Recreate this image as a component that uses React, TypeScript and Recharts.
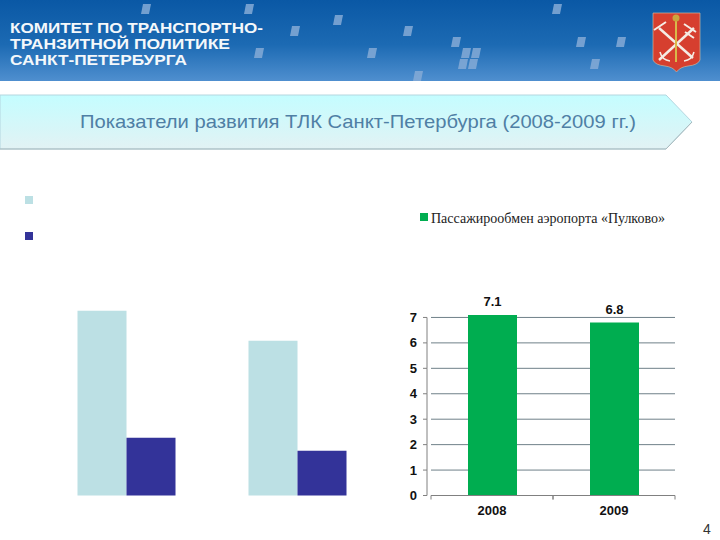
import { Bar, BarChart, CartesianGrid, LabelList, XAxis, YAxis } from "recharts"

const years = ["2008", "2009"]
// left chart has no readable scale, values read as bar heights against the right chart's units
const lightValues = [7.26, 6.08]
const darkValues = [2.27, 1.76]
const passengerValues = [7.1, 6.8]
const yTicks = [0, 1, 2, 3, 4, 5, 6, 7]
const passengerName = "Пассажирообмен аэропорта «Пулково»"
const titleText = "Показатели развития ТЛК Санкт-Петербурга (2008-2009 гг.)"
const headerLines = ["КОМИТЕТ ПО ТРАНСПОРТНО-", "ТРАНЗИТНОЙ ПОЛИТИКЕ", "САНКТ-ПЕТЕРБУРГА"]
const headerWidths = [253, 220, 177]

const leftData = years.map((year, i) => ({ year, light: lightValues[i], dark: darkValues[i] }))
const rightData = years.map((year, i) => ({ year, value: passengerValues[i] }))

const squares = [
  [141, 4], [244, 4], [333, 15], [290, 26], [403, 26], [552, 4], [576, 37], [616, 37],
  [254, 48], [367, 48], [451, 37], [461, 48], [471, 48], [458, 59], [468, 59], [590, 59], [413, 71],
]

const axisColor = "#808080"
const labelFont = { fill: "#111", fontSize: 13, fontFamily: "Liberation Sans", fontWeight: "bold" }
const UNIT_PX = 25.45
const HALF_BAND = 61

function Header() {
  return (
    <svg width={720} height={160} style={{ position: "absolute", left: 0, top: 0 }}>
      <defs>
        <linearGradient id="head" x1="0" y1="0" x2="0" y2="1">
          <stop offset="0" stopColor="#0a58a5" />
          <stop offset="0.55" stopColor="#1c6ab3" />
          <stop offset="1" stopColor="#4f8fcf" />
        </linearGradient>
        <linearGradient id="banner" x1="0" y1="0" x2="0" y2="1">
          <stop offset="0" stopColor="#c4fdff" />
          <stop offset="1" stopColor="#e2f2f4" />
        </linearGradient>
      </defs>
      <rect x={0} y={0} width={720} height={81} fill="url(#head)" />
      {squares.map(([x, y], i) => (
        <polygon key={i} points={`${x + 2},${y} ${x + 10},${y} ${x + 8},${y + 10} ${x},${y + 10}`} fill="#85aad6" opacity={0.85} />
      ))}
      {headerLines.map((line, i) => (
        <text
          key={line}
          x={10}
          y={33 + i * 16}
          fill="#f4f8fb"
          fontFamily="Liberation Sans"
          fontWeight="bold"
          fontSize={14}
          textLength={headerWidths[i]}
          lengthAdjust="spacingAndGlyphs"
        >
          {line}
        </text>
      ))}
      <path d="M653 13 H700 V60 Q698 65 688 66 Q680 67 676.5 72 Q673 67 665 66 Q655 65 653 60 Z" fill="#d63f2f" stroke="#c9b7a0" strokeWidth={0.7} />
      <path d="M659 28 L693 58" stroke="#f5ece4" strokeWidth={2.5} />
      <path d="M694 28 L659 60" stroke="#f5ece4" strokeWidth={2.5} />
      <path d="M654 30 L666 22 M684 24 L696 32 M685 32 L694 38" stroke="#f5ece4" strokeWidth={2} />
      <path d="M660 52 Q662 60 670 61 M684 61 Q692 60 694 52" stroke="#f5ece4" strokeWidth={1.5} fill="none" />
      <path d="M676 19 V62" stroke="#d8b94a" strokeWidth={2} />
      <circle cx={676} cy={18} r={3.5} fill="#c9a53e" />
      <polygon points="0,95 666,95 692,122 666,149 0,149" fill="url(#banner)" stroke="#b4d6df" />
      <path d="M0 149 H666 L692 122" stroke="#a9b9bd" fill="none" />
      <text x={80} y={128} fill="#4f7fa5" fontFamily="Liberation Sans" fontSize={18.5} textLength={556} lengthAdjust="spacingAndGlyphs">
        {titleText}
      </text>
    </svg>
  )
}

// value tick: number, tick mark and the piece of axis line below it, so the line stops at 7
function ValueTick({ x, y, payload }: any) {
  return (
    <g>
      <line x1={x} x2={x + 4} y1={y} y2={y} stroke={axisColor} />
      {payload.value > 0 && <line x1={x + 4} x2={x + 4} y1={y} y2={y + UNIT_PX} stroke={axisColor} />}
      <text x={x - 6} y={y + 4.5} textAnchor="end" {...labelFont}>{payload.value}</text>
    </g>
  )
}

// Year tick: the tick marks sit on the band edges, not under the label
function YearTick({ x, y, payload }: any) {
  return (
    <g>
      <line x1={x - HALF_BAND} x2={x - HALF_BAND} y1={y - 8} y2={y - 4} stroke={axisColor} />
      <line x1={x + HALF_BAND} x2={x + HALF_BAND} y1={y - 8} y2={y - 4} stroke={axisColor} />
      <text x={x} y={y + 11} textAnchor="middle" {...labelFont}>{payload.value}</text>
    </g>
  )
}

export default function App() {
  return (
    <div style={{ position: "absolute", left: 0, top: 0, width: 720, height: 540, background: "#fff", overflow: "hidden" }}>
      <Header />
      <div style={{ position: "absolute", left: 25, top: 196, width: 8, height: 8, background: "#bce0e4" }} />
      <div style={{ position: "absolute", left: 25, top: 232, width: 8, height: 8, background: "#333399" }} />
      <div style={{ position: "absolute", left: 420, top: 213, width: 8, height: 8, background: "#00ad50" }} />
      <div style={{ position: "absolute", left: 431, top: 211, fontFamily: "Liberation Serif", fontSize: 14, color: "#222", whiteSpace: "nowrap" }}>
        {passengerName}
      </div>

      <div style={{ position: "absolute", left: 0, top: 280 }}>
        <BarChart width={400} height={240} data={leftData} margin={{ top: 12, right: 17.5, bottom: 24.5, left: 40.5 }} barGap={0} barSize={49}>
          <XAxis dataKey="year" hide />
          <YAxis domain={[0, 8]} hide />
          <Bar dataKey="light" fill="#bce0e4" isAnimationActive={false} />
          <Bar dataKey="dark" fill="#333399" isAnimationActive={false} />
        </BarChart>
      </div>

      <div style={{ position: "absolute", left: 380, top: 280 }}>
        <BarChart width={310} height={240} data={rightData} margin={{ top: 12, right: 15, bottom: 0, left: 21 }} barSize={49}>
          <CartesianGrid vertical={false} horizontalValues={yTicks} stroke="#6f8088" />
          <XAxis dataKey="year" height={24.5} stroke={axisColor} tickLine={false} interval={0} tick={<YearTick />} />
          <YAxis domain={[0, 8]} ticks={yTicks} width={30} axisLine={false} tickLine={false} interval={0} tick={<ValueTick />} />
          <Bar dataKey="value" fill="#00ad50" isAnimationActive={false}>
            <LabelList dataKey="value" position="top" offset={9} {...labelFont} />
          </Bar>
        </BarChart>
      </div>

      <div style={{ position: "absolute", left: 703, top: 521, fontFamily: "Liberation Sans", fontSize: 14, color: "#333" }}>4</div>
    </div>
  )
}
